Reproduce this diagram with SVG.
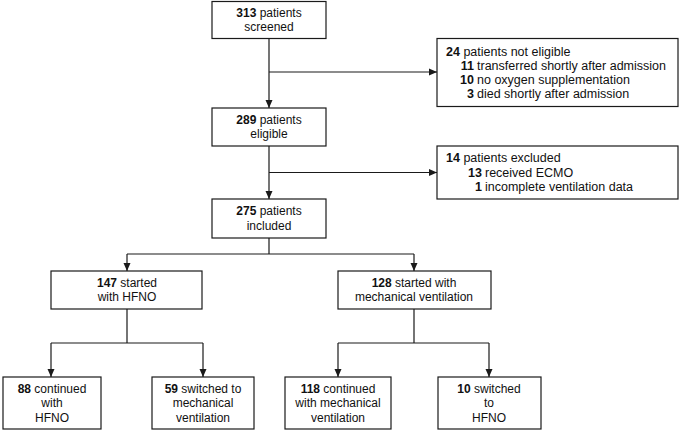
<svg xmlns="http://www.w3.org/2000/svg" width="680" height="431" viewBox="0 0 680 431">
<style>
.box{fill:#fff;stroke:#1a1a1a;stroke-width:1.2}
text{font-family:"Liberation Sans",Arial,sans-serif;font-size:12px;fill:#111}
.s text{font-size:12.5px}
.c{text-anchor:middle}
.r{text-anchor:end}
.b{font-weight:bold}
.ln{fill:none;stroke:#1a1a1a;stroke-width:1.2}
</style>
<defs>
<marker id="ah" viewBox="0 0 8 8" refX="8" refY="4" markerWidth="8" markerHeight="8" markerUnits="userSpaceOnUse" orient="auto">
<path d="M0,0.5 L8,4 L0,7.5 Z" fill="#1a1a1a"/>
</marker>
</defs>
<rect width="680" height="431" fill="#fff"/>
<g id="connectors">
<path class="ln" d="M269,38 V108" marker-end="url(#ah)"/>
<path class="ln" d="M269,72 H437" marker-end="url(#ah)"/>
<path class="ln" d="M269,146 V199" marker-end="url(#ah)"/>
<path class="ln" d="M269,172.5 H437" marker-end="url(#ah)"/>
<path class="ln" d="M269,238 V254 M127,254 H414"/>
<path class="ln" d="M127,254 V271" marker-end="url(#ah)"/>
<path class="ln" d="M414,254 V271" marker-end="url(#ah)"/>
<path class="ln" d="M127,309 V343 M51,343 H203"/>
<path class="ln" d="M51,343 V377" marker-end="url(#ah)"/>
<path class="ln" d="M203,343 V377" marker-end="url(#ah)"/>
<path class="ln" d="M414,309 V343 M338,343 H489"/>
<path class="ln" d="M338,343 V377" marker-end="url(#ah)"/>
<path class="ln" d="M489,343 V377" marker-end="url(#ah)"/>
</g>
<g id="screened">
<rect class="box" x="212" y="1.5" width="114" height="37"/>
<text class="c" x="269" y="17"><tspan class="b">313</tspan> patients</text>
<text class="c" x="269" y="31">screened</text>
</g>
<g id="not-eligible" class="s">
<rect class="box" x="437" y="38.5" width="241" height="68"/>
<text x="446" y="56"><tspan class="b">24</tspan> patients not eligible</text>
<text class="r b" x="474" y="70">11</text><text x="477" y="70">transferred  shortly after admission</text>
<text class="r b" x="474" y="84">10</text><text x="477" y="84">no oxygen supplementation</text>
<text class="r b" x="474" y="98">3</text><text x="477" y="98">died shortly after admission</text>
</g>
<g id="eligible">
<rect class="box" x="212" y="108" width="114" height="38"/>
<text class="c" x="269" y="124"><tspan class="b">289</tspan> patients</text>
<text class="c" x="269" y="138">eligible</text>
</g>
<g id="excluded" class="s">
<rect class="box" x="437" y="146" width="241" height="53"/>
<text x="446" y="162"><tspan class="b">14</tspan> patients excluded</text>
<text class="r b" x="482" y="177">13</text><text x="485" y="177">received  ECMO</text>
<text class="r b" x="482" y="191">1</text><text x="485" y="191">incomplete ventilation  data</text>
</g>
<g id="included">
<rect class="box" x="212" y="199" width="114" height="39"/>
<text class="c" x="269" y="215"><tspan class="b">275</tspan> patients</text>
<text class="c" x="269" y="230">included</text>
</g>
<g id="hfno">
<rect class="box" x="51" y="271" width="151" height="38"/>
<text class="c" x="127" y="287"><tspan class="b">147</tspan> started</text>
<text class="c" x="127" y="301">with HFNO</text>
</g>
<g id="mv">
<rect class="box" x="338" y="271" width="153" height="38"/>
<text class="c" x="414" y="287"><tspan class="b">128</tspan> started with</text>
<text class="c" x="414" y="301">mechanical ventilation</text>
</g>
<g id="cont-hfno">
<rect class="box" x="3" y="377" width="98" height="52"/>
<text class="c" x="52" y="393"><tspan class="b">88</tspan> continued</text>
<text class="c" x="52" y="407">with</text>
<text class="c" x="52" y="422">HFNO</text>
</g>
<g id="sw-mv">
<rect class="box" x="152" y="377" width="102" height="52"/>
<text class="c" x="203" y="393"><tspan class="b">59</tspan> switched to</text>
<text class="c" x="203" y="407">mechanical</text>
<text class="c" x="203" y="422">ventilation</text>
</g>
<g id="cont-mv">
<rect class="box" x="285" y="377" width="106" height="52"/>
<text class="c" x="338" y="393"><tspan class="b">118</tspan> continued</text>
<text class="c" x="338" y="407">with mechanical</text>
<text class="c" x="338" y="422">ventilation</text>
</g>
<g id="sw-hfno">
<rect class="box" x="438" y="377" width="103" height="52"/>
<text class="c" x="489" y="393"><tspan class="b">10</tspan> switched</text>
<text class="c" x="489" y="407">to</text>
<text class="c" x="489" y="422">HFNO</text>
</g>
</svg>
